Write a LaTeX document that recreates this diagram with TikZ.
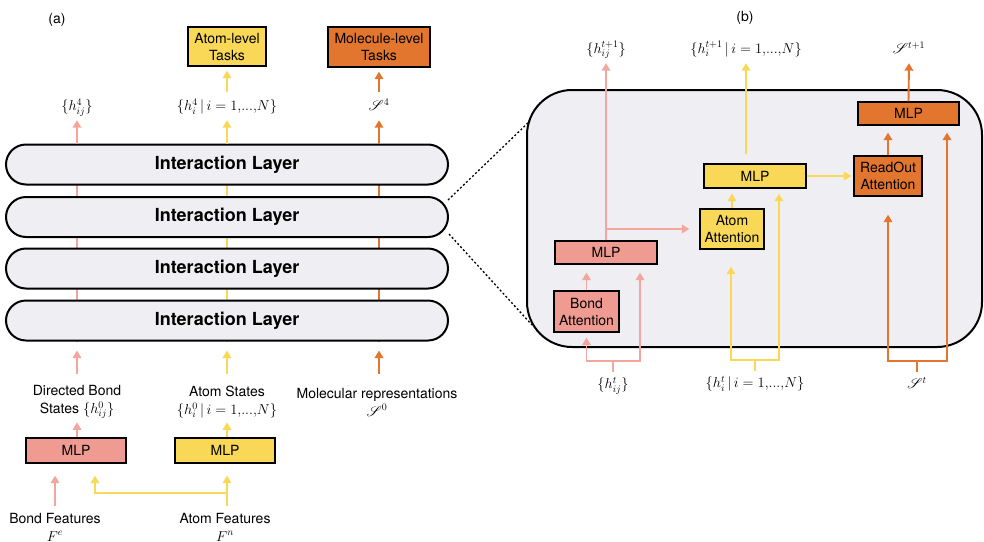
\documentclass[tikz,border=0pt]{standalone}
\usepackage{fontspec}
\setmainfont{TeX Gyre Heros}
\usepackage{mathrsfs}
\usetikzlibrary{arrows.meta,calc,backgrounds}
\definecolor{cpink}{RGB}{240,155,146}
\definecolor{cpinkl}{RGB}{243,166,158}
\definecolor{cyel}{RGB}{249,216,88}
\definecolor{corg}{RGB}{226,118,47}
\definecolor{cgray}{RGB}{239,238,242}
\newcommand{\iset}[1]{\{h_i^{#1}\,|\,i=1{,}...{,}N\}}
\begin{document}
\begin{tikzpicture}[x=1pt,y=-1pt,
  txt/.style={font=\fontsize{14}{18}\selectfont, inner sep=0pt, align=center},
  mth/.style={font=\fontsize{14}{18}\selectfont, inner sep=0pt, text height=10.5pt, text depth=3.5pt},
  box/.style={draw=black, line width=1.3pt, font=\fontsize{14}{17}\selectfont, align=center, inner sep=0pt},
  layer/.style={draw=black, line width=2pt, fill=cgray, rounded corners=20pt, minimum width=442pt, minimum height=40pt, inner sep=0pt, font=\fontsize{18}{20}\selectfont\bfseries},
  arr/.style={-{Triangle[width=8.5pt,length=7.5pt]}, line width=1.9pt},
  parr/.style={arr, draw=cpinkl},
  yarr/.style={arr, draw=cyel},
  oarr/.style={arr, draw=corg},
  pline/.style={line width=1.9pt, draw=cpinkl},
  yline/.style={line width=1.9pt, draw=cyel},
  oline/.style={line width=1.9pt, draw=corg},
  dotline/.style={line width=1.3pt, dash pattern=on 2pt off 2.2pt}
]
\useasboundingbox (0,0) rectangle (984,541);

% ---------------- (a) ----------------
\coordinate (ca) at (77,0);
\coordinate (cb) at (227,0);
\coordinate (cc) at (379,0);

\node[txt] (la) at (57,20) {(a)};
\node[box, fill=cyel, minimum width=78pt, minimum height=39pt] (atask) at (227,46.5) {Atom-level\\Tasks};
\node[box, fill=corg, minimum width=102pt, minimum height=40pt] (mtask) at (379,47) {Molecule-level\\Tasks};

\node[mth] (h4ij) at (77,107) {$\{h_{ij}^4\}$};
\node[mth] (h4i) at (227,107) {$\iset{4}$};
\node[mth] (s4) at (379,107) {$\mathscr{S}^4$};

\node[layer] (L1) at (227,164.5) {Interaction Layer};
\node[layer] (L2) at (227,217) {Interaction Layer};
\node[layer] (L3) at (227,268.5) {Interaction Layer};
\node[layer] (L4) at (227,320.5) {Interaction Layer};

\begin{scope}[on background layer]
  \draw[pline] (L1.north -| ca) -- (L4.south -| ca);
  \draw[yline] (L1.north -| cb) -- (L4.south -| cb);
  \draw[oline] (L1.north -| cc) -- (L4.south -| cc);
\end{scope}

\draw[parr] (L1.north -| ca) -- ($(h4ij.south)+(0,6)$);
\draw[yarr] (L1.north -| cb) -- ($(h4i.south)+(0,6)$);
\draw[oarr] (L1.north -| cc) -- ($(s4.south)+(0,6)$);
\draw[yarr] ($(h4i.north)+(0,-8)$) -- ($(atask.south)+(0,4)$);
\draw[oarr] ($(s4.north)+(0,-8)$) -- ($(mtask.south)+(0,4)$);

\node[txt] (dbs) at (77,402) {Directed Bond\\States $\{h^0_{ij}\}$};
\node[txt] (ast) at (227,402) {Atom States\\$\iset{0}$};
\node[txt] (mr) at (377,402) {Molecular representations\\$\mathscr{S}^0$};

\draw[parr] ($(L4.south -| ca)+(0,32)$) -- ($(L4.south -| ca)+(0,9)$);
\draw[yarr] ($(L4.south -| cb)+(0,32)$) -- ($(L4.south -| cb)+(0,9)$);
\draw[oarr] ($(L4.south -| cc)+(0,32)$) -- ($(L4.south -| cc)+(0,9)$);

\node[box, fill=cpink, minimum width=100pt, minimum height=25pt] (mlpa) at (76,450.5) {MLP};
\node[box, fill=cyel, minimum width=100pt, minimum height=25pt] (mlpb) at (225,450.5) {MLP};

\draw[parr] (mlpa.north -| ca) -- ($(mlpa.north -| ca)+(0,-15)$);
\draw[yarr] (mlpb.north -| cb) -- ($(mlpb.north -| cb)+(0,-15)$);

\node[txt] (bf) at (55,527) {Bond Features\\$F^e$};
\node[txt] (af) at (225,527) {Atom Features\\$F^n$};

\draw[parr] ($(mlpa.south)+(-21,42)$) -- ($(mlpa.south)+(-21,12)$);
\draw[yarr] ($(mlpb.south -| cb)+(0,42)$) -- ($(mlpb.south -| cb)+(0,12)$);
\draw[yarr] ($(mlpb.south -| cb)+(0,29)$) -| ($(mlpa.south)+(19,12)$);

% ---------------- (b) ----------------
\node[txt] (lb) at (745,18) {(b)};

\node[draw=black, line width=2pt, fill=cgray, rounded corners=45pt, minimum width=455pt, minimum height=257pt, inner sep=0pt] (cell) at (754.5,218.5) {};

\coordinate (d1) at (530,121);
\coordinate (d2) at (532,325);
\draw[dotline] ($(L2.north east)+(-1,4)$) -- (d1);
\draw[dotline] ($(L2.south east)+(0,-4)$) -- (d2);

\node[mth] (hijt1) at (606,50) {$\{h_{ij}^{t+1}\}$};
\node[mth] (hit1) at (746,50) {$\iset{t+1}$};
\node[mth] (st1) at (909,50) {$\mathscr{S}^{t+1}$};

\node[box, fill=corg, minimum width=101pt, minimum height=23pt] (mlpo) at (908.5,113.5) {MLP};
\node[box, fill=corg, minimum width=68pt, minimum height=40pt] (ro) at (888,176) {ReadOut\\Attention};
\node[box, fill=cyel, minimum width=102pt, minimum height=24pt] (mlpy) at (755,176) {MLP};
\node[box, fill=cyel, minimum width=64pt, minimum height=40pt] (aa) at (732,229) {Atom\\Attention};
\node[box, fill=cpink, minimum width=102pt, minimum height=23pt] (mlpp) at (606,252.5) {MLP};
\node[box, fill=cpink, minimum width=65pt, minimum height=41pt] (ba) at (586.5,311.5) {Bond\\Attention};

\node[mth] (hijt) at (613,385) {$\{h_{ij}^{t}\}$};
\node[mth] (hit) at (755,384) {$\iset{t}$};
\node[mth] (st) at (917,385) {$\mathscr{S}^{t}$};

% pink paths
\draw[parr] (mlpp.north) -- ($(hijt1.south)+(0,6)$);
\draw[parr] (mlpp.north |- aa.west) -- ($(aa.west)+(-10,0)$);
\draw[parr] (ba.north) -- ($(ba.north |- mlpp.south)+(0,8)$);
\draw[parr] ($(hijt.north)+(0,-6)$) -- ++(0,-11) -| ($(ba.south)+(0,5)$);
\draw[parr] ($(hijt.north)+(0,-6)$) -- ++(0,-11) -| ($(mlpp.south)+(34,8)$);

% yellow paths
\draw[yarr] ($(mlpy.north -| hit1.south)+(0,-9)$) -- ($(hit1.south)+(0,6)$);
\draw[yarr] (aa.north) -- ($(aa.north |- mlpy.south)+(0,5)$);
\draw[yarr] (mlpy.east) -- ($(mlpy.east -| ro.west)+(-2,0)$);
\draw[yarr] ($(hit.north)+(0,-6)$) -- ++(0,-11) -| ($(aa.south)+(-1,17)$);
\draw[yarr] ($(hit.north)+(0,-6)$) -- ++(0,-11) -| ($(mlpy.south)+(24,5)$);

% orange paths
\draw[oarr] (ro.north) -- ($(ro.north |- mlpo.south)+(0,7)$);
\draw[oarr] (mlpo.north) -- ($(st1.south)+(0,6)$);
\draw[oarr] ($(st.north)+(0,-6)$) -- ++(0,-11) -| ($(ro.south)+(0,18)$);
\draw[oarr] ($(st.north)+(0,-6)$) -- ++(0,-11) -| ($(mlpo.south)+(38.5,7)$);
\end{tikzpicture}
\end{document}
